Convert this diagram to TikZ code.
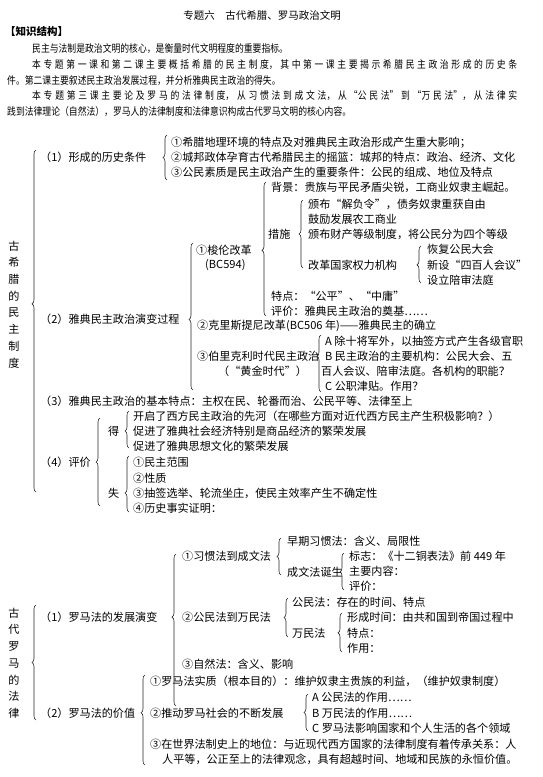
\documentclass[tikz,border=0pt]{standalone}
\usepackage{fontspec}
\setmainfont{Noto Sans CJK SC}
\newfontfamily\hdcjk[FakeStretch=0.84]{Noto Sans CJK SC}
\usetikzlibrary{decorations.pathreplacing,positioning}
\newcommand{\dgfont}{\fontsize{11.1pt}{14pt}\selectfont}
\newcommand{\hdfont}{\hdcjk\fontsize{10.5pt}{14pt}\selectfont}
\newcommand{\jfy}{\XeTeXlinebreaklocale "zh"\XeTeXlinebreakskip=0pt plus 20pt\parfillskip=0pt\noindent}
\tikzset{
  item/.style={anchor=west, inner sep=0pt, font=\dgfont},
  head/.style={anchor=west, inner sep=0pt, font=\hdfont},
  vchar/.style={anchor=center, inner sep=0pt, font=\dgfont},
  brc/.style={decorate, decoration={brace, amplitude=4pt, aspect=#1}, line width=0.6pt, black!85},
  brc/.default=0.5
}

\begin{document}
\begin{tikzpicture}[x=1pt, y=-1pt]
    \useasboundingbox (0,0) rectangle (543,777);
    % --- Header ---
    \node[anchor=center, inner sep=0pt, font=\fontsize{10.5pt}{14pt}\selectfont] (title) at (262,16) {专题六\quad 古代希腊、罗马政治文明};
    \node[anchor=west, inner sep=0pt, font=\fontsize{10.5pt}{14pt}\selectfont\bfseries] (kjg) at (5,31) {【知识结构】};
    \node[head] (h1) at (32,49) {民主与法制是政治文明的核心，是衡量时代文明程度的重要指标。};
    \node[head] (h2) at (32,65) {\parbox{485pt}{\jfy 本专题第一课和第二课主要概括希腊的民主制度，其中第一课主要揭示希腊民主政治形成的历史条}};
    \node[head] (h3) at (7,81) {件。第二课主要叙述民主政治发展过程，并分析雅典民主政治的得失。};
    \node[head] (h4) at (32,96) {\parbox{485pt}{\jfy 本专题第三课主要论及罗马的法律制度，从习惯法到成文法，从 “公民法”到“万民法”，从法律实}};
    \node[head] (h5) at (7,112) {践到法律理论（自然法），罗马人的法律制度和法律意识构成古代罗马文明的核心内容。};

    % --- Greece ---
    \foreach \c [count=\i from 0] in {古,希,腊,的,民,主,制,度}
        \node[vchar] (gv\i) at (14,246+16.7*\i) {\c};
    \draw[brc=0.55] (36,492) -- (36,150);
    % (1)
    \node[item] (g1) at (40,157) {（1）形成的历史条件};
    \draw[brc] (167,180) -- (167,135);
    \node[item] (g11) at (171,143) {①希腊地理环境的特点及对雅典民主政治形成产生重大影响；};
    \node[item] (g12) at (171,157) {②城邦政体孕育古代希腊民主的摇篮：城邦的特点：政治、经济、文化};
    \node[item] (g13) at (171,172) {③公民素质是民主政治产生的重要条件：公民的组成、地位及特点};
    % (2)
    \node[item] (g2) at (40,319) {（2）雅典民主政治演变过程};
    \draw[brc=0.48] (193,390) -- (193,243);
    \node[item] (sol) at (196,250) {①梭伦改革};
    \node[item] (solbc) at (205,265) {(BC594)};
    \draw[brc=0.49] (266,316) -- (266,182);
    \node[item] (solbg) at (271,187) {背景：贵族与平民矛盾尖锐，工商业奴隶主崛起。};
    \node[item] (solcs) at (268,234) {措施};
    \draw[brc] (303,268) -- (303,200);
    \node[item] (cs1) at (308,204) {颁布“解负令”，债务奴隶重获自由};
    \node[item] (cs2) at (308,219) {鼓励发展农工商业};
    \node[item] (cs3) at (308,234) {颁布财产等级制度，将公民分为四个等级};
    \node[item] (cs4) at (308,265) {改革国家权力机构};
    \draw[brc=0.49] (421,283) -- (421,246);
    \node[item] (jg1) at (427,249) {恢复公民大会};
    \node[item] (jg2) at (427,265) {新设“四百人会议”};
    \node[item] (jg3) at (427,280) {设立陪审法庭};
    \node[item] (soltd) at (271,296) {特点：“公平”、“中庸”};
    \node[item] (solpj) at (271,311) {评价：雅典民主政治的奠基……};
    \node[item] (klsn) at (197,326) {②克里斯提尼改革(BC506 年)——雅典民主的确立};
    \node[item] (plkl) at (197,356) {③伯里克利时代民主政治};
    \node[item] (plklh) at (218,371) {（“黄金时代”）};
    \draw[brc=0.63] (321,392) -- (321,335);
    \node[item] (pa) at (325,341) {A 除十将军外，以抽签方式产生各级官职};
    \node[item] (pb) at (325,356) {B 民主政治的主要机构：公民大会、五};
    \node[item] (pb2) at (321,371) {百人会议、陪审法庭。各机构的职能？};
    \node[item] (pc) at (325,386) {C 公职津贴。作用？};
    % (3)
    \node[item] (g3) at (40,401) {（3）雅典民主政治的基本特点：主权在民、轮番而治、公民平等、法律至上};
    % (4)
    \node[item] (g4) at (40,462) {（4）评价};
    \draw[brc] (100,506) -- (100,418);
    \node[item] (de) at (108,431) {得};
    \draw[brc=0.46] (129,448) -- (129,411);
    \node[item] (de1) at (133,416) {开启了西方民主政治的先河（在哪些方面对近代西方民主产生积极影响？）};
    \node[item] (de2) at (133,431) {促进了雅典社会经济特别是商品经济的繁荣发展};
    \node[item] (de3) at (133,446) {促进了雅典思想文化的繁荣发展};
    \node[item] (shi) at (108,493) {失};
    \draw[brc=0.34] (129,512) -- (129,456);
    \node[item] (sh1) at (133,462) {①民主范围};
    \node[item] (sh2) at (133,478) {②性质};
    \node[item] (sh3) at (133,493) {③抽签选举、轮流坐庄，使民主效率产生不确定性};
    \node[item] (sh4) at (133,508) {④历史事实证明：};

    % --- Rome ---
    \foreach \c [count=\i from 0] in {古,代,罗,马,的,法,律}
        \node[vchar] (rv\i) at (14,613+16.7*\i) {\c};
    \draw[brc] (36,720) -- (36,605);
    % (1)
    \node[item] (r1) at (40,617) {（1）罗马法的发展演变};
    \draw[brc=0.585] (176,706) -- (176,554);
    \node[item] (r11) at (182,556) {①习惯法到成文法};
    \draw[brc] (281,575) -- (281,538);
    \node[item] (r111) at (287,541) {早期习惯法：含义、局限性};
    \node[item] (r112) at (287,572) {成文法诞生};
    \draw[brc=0.49] (344,590) -- (344,553);
    \node[item] (r1121) at (349,556) {标志：《十二铜表法》前 449 年};
    \node[item] (r1122) at (349,571) {主要内容：};
    \node[item] (r1123) at (349,586) {评价：};
    \node[item] (r12) at (182,617) {②公民法到万民法};
    \draw[brc] (288,637) -- (288,598);
    \node[item] (r121) at (292,602) {公民法：存在的时间、特点};
    \node[item] (r122) at (292,633) {万民法};
    \draw[brc=0.49] (342,652) -- (342,613);
    \node[item] (r1221) at (347,617) {形成时间：由共和国到帝国过程中};
    \node[item] (r1222) at (347,633) {特点：};
    \node[item] (r1223) at (347,648) {作用：};
    \node[item] (r13) at (182,664) {③自然法：含义、影响};
    % (2)
    \node[item] (r2) at (40,713) {（2）罗马法的价值};
    \draw[brc=0.58] (145,765) -- (145,675);
    \node[item] (r21) at (150,681) {①罗马法实质（根本目的）：维护奴隶主贵族的利益，（维护奴隶制度）};
    \node[item] (r22) at (150,713) {②推动罗马社会的不断发展};
    \draw[brc] (308,731) -- (308,694);
    \node[item] (r221) at (312,697) {A 公民法的作用……};
    \node[item] (r222) at (312,713) {B 万民法的作用……};
    \node[item] (r223) at (312,728) {C 罗马法影响国家和个人生活的各个领域};
    \node[item] (r23) at (150,744) {③在世界法制史上的地位：与近现代西方国家的法律制度有着传承关系：人};
    \node[item] (r23b) at (162,759) {人平等，公正至上的法律观念，具有超越时间、地域和民族的永恒价值。};
\end{tikzpicture}
\end{document}
